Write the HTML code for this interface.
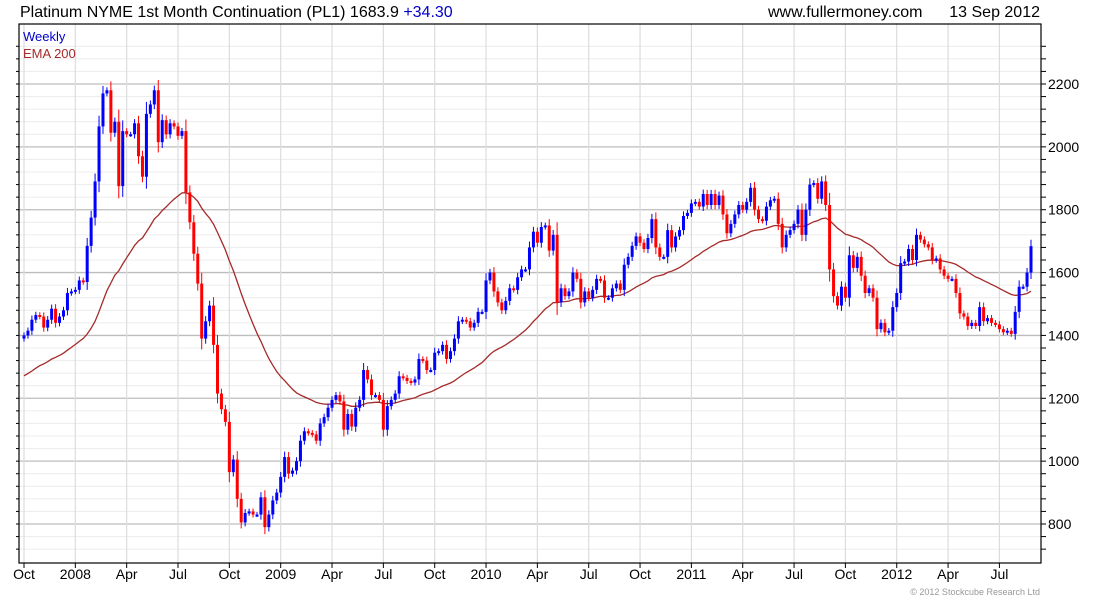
<!DOCTYPE html>
<html><head><meta charset="utf-8"><style>
body{margin:0;background:#fff;}
svg text{font-family:"Liberation Sans",sans-serif;}
</style></head><body>
<svg id="chart" width="1100" height="600" viewBox="0 0 1100 600" xmlns="http://www.w3.org/2000/svg">
<rect x="0" y="0" width="1100" height="600" fill="#fff"/>
<text x="20" y="17" font-size="16" fill="#000">Platinum NYME 1st Month Continuation (PL1) 1683.9 <tspan fill="#0000cc">+34.30</tspan></text>
<text x="768" y="17" font-size="16" fill="#000">www.fullermoney.com</text>
<text x="1040" y="17" font-size="16" fill="#000" text-anchor="end">13 Sep 2012</text>
<g id="grid"></g>
<g id="ema"></g>
<g id="candles"></g>
<rect x="19" y="24" width="1022" height="539" fill="none" stroke="#000" stroke-width="1.2"/>
<g id="axes"></g>
<text x="23" y="41" font-size="13" fill="#0000cc">Weekly</text>
<text x="23" y="58" font-size="13" fill="#a52a2a">EMA 200</text>
<text x="1040" y="595" font-size="9" fill="#999" text-anchor="end">© 2012 Stockcube Research Ltd</text>
</svg>
<script>
const closes = [
1400,1415,1450,1465,1460,1425,1450,1485,1440,1460,
1480,1535,1540,1545,1575,1570,1685,1775,1890,2065,
2170,2180,2045,2080,1875,2050,2040,2040,2075,1970,
1905,2105,2135,2180,2015,2085,2040,2075,2065,2035,
2050,1855,1760,1660,1565,1390,1445,1495,1370,1215,
1165,1125,965,1005,880,805,835,840,830,830,
885,790,830,875,900,950,1013,960,970,1000,
1065,1095,1090,1085,1065,1120,1140,1170,1195,1210,
1190,1100,1150,1110,1170,1195,1290,1260,1210,1210,
1195,1100,1175,1195,1215,1270,1265,1255,1250,1260,
1325,1320,1290,1290,1345,1350,1370,1325,1350,1390,
1445,1450,1445,1425,1440,1475,1475,1575,1600,1540,
1505,1480,1510,1550,1545,1585,1610,1610,1680,1730,
1695,1745,1750,1670,1720,1505,
1550,1525,1540,1600,1580,1505,1540,1520,1545,1580,
1575,1520,1520,1550,1565,1545,1625,1650,1685,1715,
1695,1675,1710,1770,1680,1650,1650,1735,1680,1715,
1735,1780,1790,1820,1825,1810,1850,1815,1850,1815,
1845,1785,1725,1755,1785,1815,1800,1825,1870,1800,
1770,1765,1810,1830,1835,1755,1680,1720,1735,1755,
1800,1720,1800,1880,1885,1835,1890,1815,
1610,1525,1495,1555,1520,1655,1615,1650,1590,1535,
1550,1520,1420,1440,1410,1415,1490,1535,1630,1635,
1675,1640,1720,1705,1690,1680,1640,1645,1610,1590,
1580,1580,1535,1470,1460,1430,1440,1430,1490,1445,
1455,1440,1435,1420,1410,1415,1405,1475,1555,1555,
1600,1684
];
const firstOpen = 1390;
const emaSeed = 1265;
const yTicks = [800,1000,1200,1400,1600,1800,2000,2200];
const xLabels = ["Oct","2008","Apr","Jul","Oct","2009","Apr","Jul","Oct","2010","Apr","Jul","Oct","2011","Apr","Jul","Oct","2012","Apr","Jul"];
const xLabelWeeks = [0,13,26,39,52,65,78,91,104,117,130,143,156,169,182,195,208,221,234,247];

const NS="http://www.w3.org/2000/svg";
const L=19,R=1041,T=24,B=563;
const X0=24, X1=1031;
function xs(i){return X0+i*(X1-X0)/(closes.length-1);}
function ys(v){return 524-(v-800)*(440/1400);}
function mk(tag,attrs,parent){const e=document.createElementNS(NS,tag);for(const k in attrs)e.setAttribute(k,attrs[k]);parent.appendChild(e);return e;}
const grid=document.getElementById('grid'),axes=document.getElementById('axes'),cg=document.getElementById('candles'),eg=document.getElementById('ema');
// minor horizontal grid
for(let v=720;v<=2320;v+=40){const y=ys(v);if(y<T||y>B)continue;
 const major=v%200===0;
 const ln=mk('line',{x1:L,x2:R,y1:y,y2:y,stroke:major?'#bdbdbd':'#ececec','stroke-width':major?1.3:1},grid);
 
 
 const tk=mk('line',{x1:R,x2:R+5,y1:y,y2:y,stroke:'#000'},axes);
 
 
 const tl=mk('line',{x1:L,x2:L-3,y1:y,y2:y,stroke:'#000'},axes);
 
 
}
yTicks.forEach(v=>{const t=mk('text',{x:R+7,y:ys(v)+5,'font-size':14,fill:'#000'},axes);t.textContent=v;
 
 });
xLabels.forEach((lab,k)=>{const x=xs(xLabelWeeks[k]);
 const g=mk('line',{x1:x,x2:x,y1:T,y2:B,stroke:'#dcdcdc','stroke-width':1.2},grid);
 
 
 const tk=mk('line',{x1:x,x2:x,y1:B,y2:B+5,stroke:'#000'},axes);
 
 
 const t=mk('text',{x:x,y:579,'font-size':14,fill:'#000','text-anchor':'middle'},axes);t.textContent=lab;
 
 });
// candles
let prev=firstOpen;
closes.forEach((c,i)=>{const o=prev;prev=c;const up=c>=o;const col=up?'#0000ff':'#ff0000';
 const hi=Math.max(o,c)+8+Math.abs(c-o)*0.15, lo=Math.min(o,c)-8-Math.abs(c-o)*0.15;
 const x=xs(i);
 const w=mk('line',{x1:x,x2:x,y1:ys(hi),y2:ys(lo),stroke:col,'stroke-width':1},cg);
 
 
 const top=ys(Math.max(o,c)),h=Math.max(2,ys(Math.min(o,c))-top);
 const b=mk('rect',{x:x-1.5,y:top,width:3,height:h,fill:col},cg);
 
 });
// EMA
let e=emaSeed;const a=2/41;let d='';
closes.forEach((c,i)=>{e=e+a*(c-e);d+=(i?'L':'M')+xs(i).toFixed(1)+','+ys(e).toFixed(1);});
const p=mk('path',{d:d,fill:'none',stroke:'#a52a2a','stroke-width':1.3},eg);


</script>
</body></html>
